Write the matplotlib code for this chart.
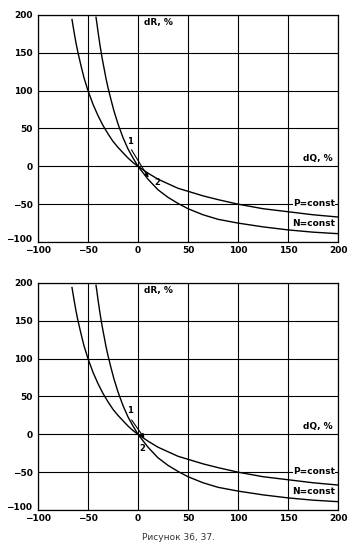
import matplotlib
matplotlib.use("Agg")
import matplotlib.pyplot as plt
import matplotlib.transforms as mtransforms

# Data
dq_p = [-66, -64, -62, -60, -57, -54, -50, -45, -40, -35, -30, -25, -20, -15, -10, -5, 0,
        10, 20, 30, 40, 50, 65, 80, 100, 125, 150, 175, 200]
dr_p = [194, 178, 163, 150, 133, 117, 100, 82, 67, 54, 43, 33, 25, 18, 11, 5, 0,
        -9, -17, -23, -29, -33, -39, -44, -50, -56, -60, -64, -67]

dq_n = [-42, -41, -40, -38, -36, -34, -32, -30, -27, -24, -20, -15, -10, -5, 0,
        10, 20, 30, 40, 50, 65, 80, 100, 125, 150, 175, 200]
dr_n = [197, 188, 178, 160, 144, 130, 116, 104, 88, 73, 56, 38, 23, 11, 0,
        -17, -31, -41, -49, -56, -64, -70, -75, -80, -84, -87, -89]

x_ticks = [-100, -50, 0, 50, 100, 150, 200]
y_ticks = [-100, -50, 0, 50, 100, 150, 200]
label_p = "P=const"
label_n = "N=const"
caption = "Рисунок 36, 37."

W, H = 353, 556
fig = plt.figure(figsize=(W / 100, H / 100), dpi=100)
fig.patch.set_facecolor("white")

def make_ax(top_px, bottom_px):
    left, right = 38, 338
    return fig.add_axes([left / W, 1 - bottom_px / H, (right - left) / W, (bottom_px - top_px) / H])

axes = [make_ax(15, 242), make_ax(283, 510)]

for i, ax in enumerate(axes):
    ax.set_xlim(-100, 200)
    ax.set_ylim(-100, 200)
    ax.set_xticks(x_ticks)
    ax.set_yticks(y_ticks)
    ax.grid(True, color="black", linewidth=0.8)
    ax.set_axisbelow(True)
    for s in ax.spines.values():
        s.set_color("black")
        s.set_linewidth(0.9)
    ax.tick_params(axis="y", length=0, pad=4, labelsize=6.5)
    ax.tick_params(axis="x", length=0, pad=3, labelsize=6.5)
    fig.canvas.draw()
    for lab in ax.get_xticklabels() + ax.get_yticklabels():
        lab.set_fontweight("bold")
    # nudge the lowest y tick label up so it clears the x tick label
    ylabs = ax.get_yticklabels()
    off = mtransforms.ScaledTranslation(0, 3 / 100, fig.dpi_scale_trans)
    ylabs[0].set_transform(ylabs[0].get_transform() + off)
    ax.plot(dq_p, dr_p, color="black", linewidth=1.0, zorder=3)
    ax.plot(dq_n, dr_n, color="black", linewidth=1.0, zorder=3)
    ax.text(6, 190, "dR, %", fontsize=6.5, fontweight="bold", ha="left", va="center")
    ax.text(195, 11, "dQ, %", fontsize=6.5, fontweight="bold", ha="right", va="center")
    ax.text(197, -49, label_p, fontsize=6.5, fontweight="bold", ha="right", va="center", zorder=4,
            bbox=dict(facecolor="white", edgecolor="none", pad=0.3))
    ax.text(197, -75, label_n, fontsize=6.5, fontweight="bold", ha="right", va="center", zorder=4)
    if i == 0:
        ax.text(-8, 33, "1", fontsize=6, fontweight="bold", ha="center", va="center")
        ax.annotate("", xy=(12, -18), xytext=(-8, 25),
                    arrowprops=dict(arrowstyle="-|>", color="black", lw=0.8, mutation_scale=6), zorder=5)
        ax.text(19, -21, "2", fontsize=6, fontweight="bold", ha="center", va="center")
    else:
        ax.text(-8, 32, "1", fontsize=6, fontweight="bold", ha="center", va="center")
        ax.annotate("", xy=(8, -8), xytext=(-8, 22),
                    arrowprops=dict(arrowstyle="-|>", color="black", lw=0.8, mutation_scale=6), zorder=5)
        ax.text(4, -19, "2", fontsize=6, fontweight="bold", ha="center", va="center")

fig.text(179 / W, 1 - 537 / H, caption, fontsize=6.5, color="#333333", ha="center", va="center")

fig.savefig("out.png", dpi=100)
